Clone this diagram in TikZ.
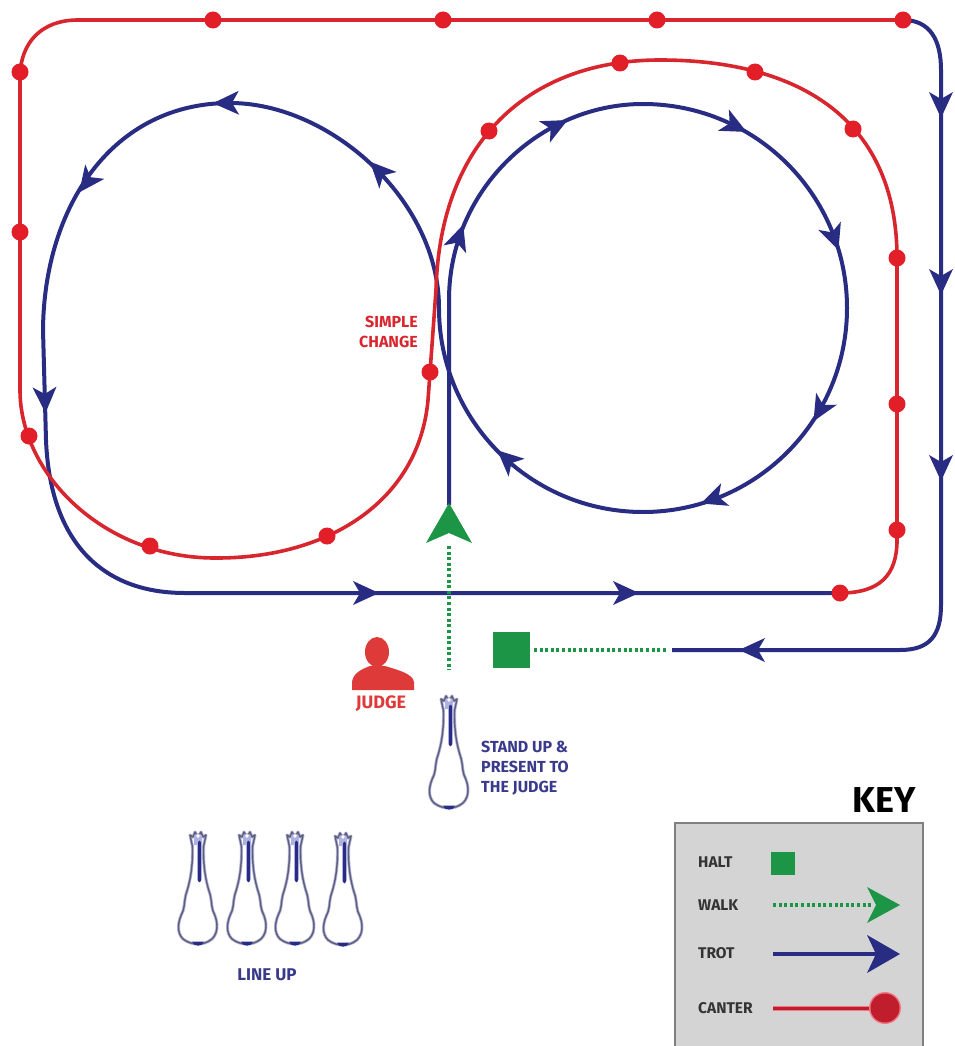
\documentclass[tikz,border=0pt]{standalone}
\usepackage{fontspec}
\setmainfont{Fira Sans}
\usetikzlibrary{arrows.meta}

\definecolor{navy}{RGB}{40,44,130}
\definecolor{navytext}{RGB}{58,58,140}
\definecolor{rred}{RGB}{216,38,46}
\definecolor{dotred}{RGB}{226,30,40}
\definecolor{judgered}{RGB}{222,58,58}
\definecolor{ggreen}{RGB}{28,150,70}
\definecolor{keygray}{RGB}{212,212,212}
\definecolor{keyborder}{RGB}{128,128,128}
\definecolor{keytext}{RGB}{52,52,52}
\definecolor{keyred}{RGB}{192,30,45}
\definecolor{keypink}{RGB}{240,120,130}
\definecolor{lavender}{RGB}{175,178,225}
\definecolor{horseline}{RGB}{95,95,115}

\newcommand{\btip}[3]{\fill[navy,shift={(#1,#2)},rotate=#3] (13,0) -- (-13,-12) -- (-6,0) -- (-13,12) -- cycle;}
\newcommand{\horseoutline}{(0,4) -- (3,-1) -- (5,4) -- (8,2) -- (6.5,9) .. controls (5.5,12) and (5.5,14) .. (5.5,18) .. controls (5.5,36) and (8,48) .. (11,58) .. controls (14,66) and (13,72) .. (15,78) .. controls (20,88) and (21,99) .. (14,106) .. controls (9,110) and (4,111) .. (0,111) .. controls (-4,111) and (-10,110) .. (-15,106) .. controls (-22,99) and (-20,88) .. (-15,78) .. controls (-13,72) and (-14,66) .. (-11,58) .. controls (-8,48) and (-5.5,36) .. (-5.5,18) .. controls (-5.5,14) and (-5.5,12) .. (-6.5,9) -- (-8,2) -- (-5,4) -- (-3,-1) -- cycle}
\newcommand{\horsefig}[2]{%
  \begin{scope}[shift={(#1,#2)}]
    \fill[white] \horseoutline;
    \draw[lavender,line width=3pt,line join=round] \horseoutline;
    \draw[horseline,line width=1.4pt,line join=round] \horseoutline;
    \fill[lavender] (-4,3) -- (0,0) -- (4,3) -- (4,12) -- (-4,12) -- cycle;
    \draw[lavender,line width=5pt,line cap=round] (1,10) -- (1,46);
    \draw[navy,line width=2.6pt,line cap=round] (1.5,9) -- (1.5,48);
    \fill[white] (0,3) circle[radius=1.8pt];
    \fill[navy] (-6,108.5) .. controls (-5,114) and (5,114) .. (6,108.5) -- cycle;
  \end{scope}}

\begin{document}
\begin{tikzpicture}[x=1pt,y=-1pt,
  trot/.style={draw=navy,line width=4pt,line join=round},
  canter/.style={draw=rred,line width=3.6pt,line join=round},
  walk/.style={draw=ggreen,line width=3.6pt,dash pattern=on 3pt off 2.6pt},
  lbl/.style={font=\bfseries\fontsize{16}{20}\selectfont,inner sep=0pt},
  keylbl/.style={font=\bfseries\fontsize{15.5}{17}\selectfont,inner sep=0pt,text=keytext,anchor=west},
]
\path[use as bounding box,fill=white] (0,0) rectangle (955,1046);

% ---------- trot paths ----------
\draw[trot] (449,505) -- (449,300)
  .. controls (449,190) and (540,104) .. (643,104)
  .. controls (755.7,104) and (847,195.3) .. (847,308)
  .. controls (847,420.7) and (755.7,512) .. (643,512)
  .. controls (530.3,512) and (439,420.7) .. (439,308)
  .. controls (439,200) and (330,103) .. (230,103)
  .. controls (112,103) and (44,207) .. (43,330)
  -- (46,440)
  .. controls (50,540) and (100,593) .. (185,593)
  -- (840,593);

\draw[trot] (903,20) .. controls (930,20) and (941,40) .. (941,70)
  -- (941,605) .. controls (941,635) and (930,650) .. (900,650) -- (672,650);

% ---------- canter path ----------
\draw[canter] (840,593) .. controls (880,593) and (897,575) .. (897,540)
  -- (897,258)
  .. controls (897,120) and (800,60) .. (660,60)
  .. controls (530,60) and (440,140) .. (436,290)
  -- (428,400)
  .. controls (419,500) and (330,558) .. (217,558)
  .. controls (105,559) and (20,475) .. (20,390)
  -- (20,78) .. controls (20,42) and (42,20) .. (78,20)
  -- (903,20);

\foreach \p in {(840,593),(897,530),(897,404),(897,258),(853,129),(755,72),(620,63),
  (489,131),(430,372),(327,536),(150,546),(29,436),(20,232),(20,72),
  (213,20),(443,20),(657,20),(903,20)}
  {\fill[dotred] \p circle[radius=8.5pt];}

% ---------- trot arrowheads ----------
\btip{459}{237}{71}
\btip{556}{126}{27}
\btip{735}{126}{-27}
\btip{834}{238}{-70}
\btip{820}{410}{-120}
\btip{713}{499}{-160}
\btip{507}{459}{138}
\btip{379}{171}{134}
\btip{226}{103}{181}
\btip{87}{182}{233}
\btip{45}{400}{-88}
\btip{366}{593}{0}
\btip{626}{593}{0}
\btip{941}{105}{-90}
\btip{941}{282}{-90}
\btip{941}{468}{-90}
\btip{752}{650}{180}

% ---------- walk & halt ----------
\draw[walk] (449,546) -- (449,670);
\fill[ggreen,shift={(449,524)},rotate=90] (21,0) -- (-19,-23) -- (-9,0) -- (-19,23) -- cycle;
\fill[ggreen] (493,632) rectangle (530,668);
\draw[walk] (534,650) -- (668,650);

% ---------- labels ----------
\node[lbl,text=rred,align=right,anchor=east] (sc) at (418,332) {SIMPLE\\CHANGE};

% judge
\fill[judgered] (377,652) ellipse[x radius=12pt,y radius=15pt];
\fill[judgered] (352,690) -- (352,682) .. controls (353,673) and (362,669) .. (370,666)
  -- (385,666) .. controls (394,669) and (413,673) .. (414,682) -- (414,690) -- cycle;
\node[lbl,text=judgered,font=\bfseries\fontsize{18}{20}\selectfont] (jd) at (381,704) {JUDGE};

% horses
\horsefig{449}{697}
\node[lbl,text=navytext,align=left,anchor=west] (su) at (481,768) {STAND UP \&\\PRESENT TO\\THE JUDGE};

\horsefig{198}{833}
\horsefig{247}{833}
\horsefig{295}{833}
\horsefig{343}{834}
\node[lbl,text=navytext,font=\bfseries\fontsize{17}{19}\selectfont] (lu) at (267,975) {LINE UP};

% ---------- key ----------
\node[font=\bfseries\fontsize{36}{40}\selectfont,inner sep=0pt] (key) at (884,800) {KEY};
\fill[keygray] (675,823) rectangle (923,1046);
\draw[keyborder,line width=2pt] (675,1046) -- (675,823) -- (923,823) -- (923,1046);

\node[keylbl] (kh) at (698,862) {HALT};
\fill[ggreen] (771,852) rectangle (795,875);

\node[keylbl] (kw) at (698,905) {WALK};
\draw[walk] (773,905) -- (872,905);
\fill[ggreen,shift={(884,905)}] (16,0) -- (-17,-18) -- (-8,0) -- (-17,18) -- cycle;

\node[keylbl] (kt) at (698,953) {TROT};
\draw[navy,line width=4pt] (773,954) -- (876,954);
\fill[navy,shift={(884,954)}] (16,0) -- (-17,-19) -- (-8,0) -- (-17,19) -- cycle;

\node[keylbl] (kc) at (698,1008) {CANTER};
\draw[keypink,line width=5pt] (773,1008) -- (875,1008);
\draw[keyred,line width=3pt] (773,1008) -- (875,1008);
\fill[keypink] (885,1008) circle[radius=16pt];
\fill[keyred] (885,1008) circle[radius=14.5pt];
\end{tikzpicture}
\end{document}
